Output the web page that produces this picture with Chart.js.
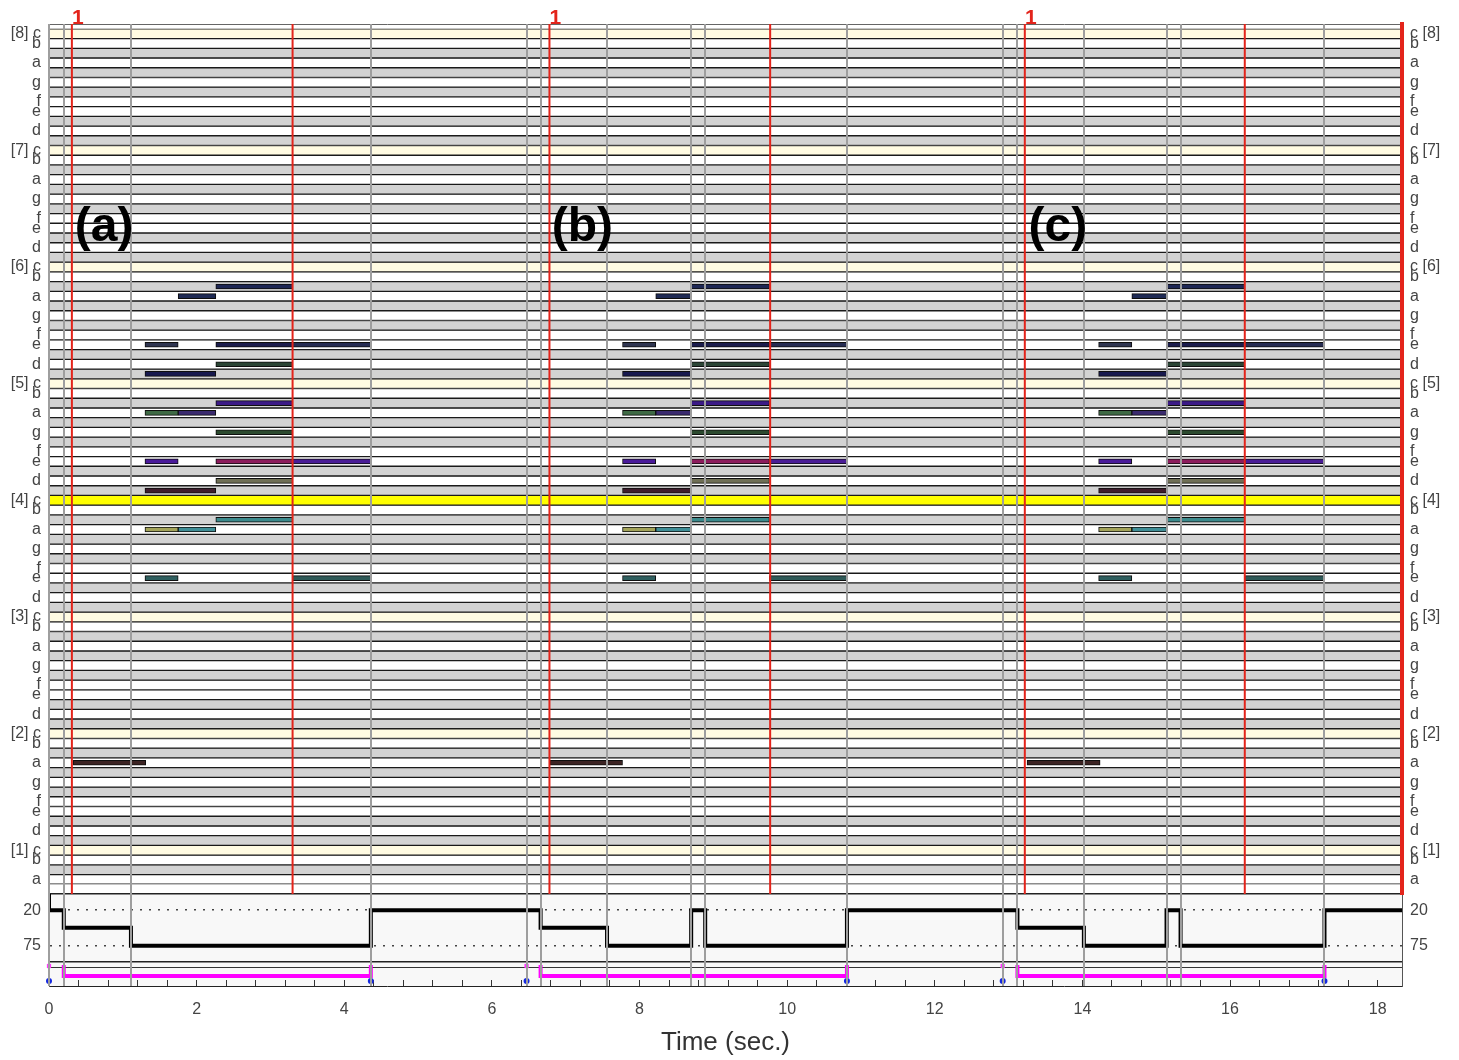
<!DOCTYPE html>
<html>
<head>
<meta charset="utf-8">
<script src="https://cdn.jsdelivr.net/npm/chart.js@4.4.1/dist/chart.umd.min.js"></script>
<style>
  html, body { margin: 0; padding: 0; background: #fff; }
  canvas { display: block; }
</style>
</head>
<body>
<canvas id="pianoRoll" width="1459" height="1060"></canvas>
<script>
// time axis (seconds)
const timeMax = 18.33;
const timeLabelEvery = 2;

// keyboard (midi numbers), A0 .. C8
const lowKey = 21;
const highKey = 108;
const rollMin = 19.5;
const rollMax = 109;
const noteLetters = ['c', '', 'd', '', 'e', 'f', '', 'g', '', 'a', '', 'b'];
const blackKeys = [1, 3, 6, 8, 10];

// vertical markers
const greyLines = [0, 0.2, 1.11, 4.36, 6.47, 6.66, 7.56, 8.70, 8.89, 10.81, 12.92, 13.12, 14.02, 15.14, 15.33, 17.28];
const redLines = [0.31, 3.30, 6.78, 9.77, 13.22, 16.20];
const barOneTimes = [0.31, 6.78, 13.22];

// notes: [start, end, midi]
const notesA = [
  [0.33, 1.31, 33], [1.30, 1.75, 76], [2.26, 3.30, 76], [3.30, 4.36, 76],
  [1.75, 2.26, 81], [2.26, 3.30, 82], [2.26, 3.30, 74], [1.30, 2.26, 73],
  [2.26, 3.30, 70], [1.30, 1.75, 69], [1.75, 2.26, 69], [2.26, 3.30, 67],
  [1.30, 1.75, 64], [2.26, 3.30, 64], [3.30, 4.36, 64], [2.26, 3.30, 62],
  [1.30, 2.26, 61], [2.26, 3.30, 58], [1.30, 1.75, 57], [1.75, 2.26, 57],
  [1.30, 1.75, 52], [3.30, 4.36, 52]
];
const notesB = [
  [6.79, 7.77, 33], [7.77, 8.22, 76], [8.70, 9.76, 76], [9.76, 10.81, 76],
  [8.22, 8.70, 81], [8.70, 9.76, 82], [8.70, 9.76, 74], [7.77, 8.70, 73],
  [8.70, 9.76, 70], [7.77, 8.22, 69], [8.22, 8.70, 69], [8.70, 9.76, 67],
  [7.77, 8.22, 64], [8.70, 9.76, 64], [9.76, 10.81, 64], [8.70, 9.76, 62],
  [7.77, 8.70, 61], [8.70, 9.76, 58], [7.77, 8.22, 57], [8.22, 8.70, 57],
  [7.77, 8.22, 52], [9.76, 10.81, 52]
];
const notesC = [
  [13.25, 14.24, 33], [14.22, 14.67, 76], [15.14, 16.20, 76], [16.20, 17.28, 76],
  [14.67, 15.14, 81], [15.14, 16.20, 82], [15.14, 16.20, 74], [14.22, 15.14, 73],
  [15.14, 16.20, 70], [14.22, 14.67, 69], [14.67, 15.14, 69], [15.14, 16.20, 67],
  [14.22, 14.67, 64], [15.14, 16.20, 64], [16.20, 17.28, 64], [15.14, 16.20, 62],
  [14.22, 15.14, 61], [15.14, 16.20, 58], [14.22, 14.67, 57], [14.67, 15.14, 57],
  [14.22, 14.67, 52], [16.20, 17.28, 52]
];
// one colour per note, same order in each section
const noteColors = [
  '#3d2424', '#2f3550', '#1b1d4d', '#262c52',
  '#1e2a55', '#1e2755', '#2b4535', '#17194e',
  '#3b1a86', '#3f6a45', '#3a2a6e', '#2c4a2f',
  '#4a1a9a', '#8c1c5c', '#4a1c96', '#6f6f55',
  '#3f1c2c', '#3c8a8c', '#a3a45a', '#3f8e96',
  '#2f5f5f', '#2f5a58'
];

// lower panel (step curve)
const tempoTimes = [0, 0, 0.2, 1.11, 4.36, 6.66, 7.56, 8.70, 8.89, 10.81, 13.12, 14.02, 15.14, 15.33, 17.28, 18.33];
const tempoValues = [-5, 20, 47, 75, 20, 47, 75, 20, 75, 20, 47, 75, 20, 75, 20, 20];
const tempoTicks = [20, 75];

// bottom strip
const sectionStarts = [0, 6.47, 12.92];
const sectionEnds = [4.36, 10.81, 17.28];
const bracketStarts = [0.2, 6.66, 13.12];

const panelLabels = ['(a)', '(b)', '(c)'];
const panelLabelTimes = [0.35, 6.81, 13.27];
const panelLabelKey = 88;

// strip lanes
const laneMark = 4, laneBracketTop = 3, laneBracket = 14, laneEnd = 19;

Chart.defaults.font.family = '"Liberation Sans", Arial, sans-serif';

const keys = [];
for (let k = lowKey; k <= highKey; k++) keys.push(k);
const whiteKeys = keys.filter(k => !blackKeys.includes(k % 12));

function rowColor(k) {
  if (k === 60) return '#ffff00';
  if (k % 12 === 0) return '#fffbe2';
  if (blackKeys.includes(k % 12)) return '#d3d3d3';
  return '#ffffff';
}

const allNotes = [...notesA, ...notesB, ...notesC];
const allNoteColors = [...noteColors, ...noteColors, ...noteColors];

const panelFill = {
  id: 'panelFill',
  beforeDraw(chart) {
    const { ctx, chartArea, scales } = chart;
    ctx.save();
    ctx.fillStyle = '#f8f8f8';
    ctx.fillRect(chartArea.left, scales.yTempo.top, chartArea.width, scales.yStrip.bottom - scales.yTempo.top);
    ctx.restore();
  }
};

const panelText = {
  id: 'panelText',
  afterDraw(chart) {
    const { ctx, scales } = chart;
    ctx.save();
    ctx.font = 'bold 48px "Liberation Sans", Arial, sans-serif';
    ctx.fillStyle = '#000';
    ctx.textBaseline = 'middle';
    panelLabels.forEach((t, i) => {
      ctx.fillText(t, scales.x.getPixelForValue(panelLabelTimes[i]), scales.yRoll.getPixelForValue(panelLabelKey));
    });
    ctx.restore();
  }
};

const keyLabelLeft = v => {
  const k = Math.round(v);
  if (k % 12 === 0) return '[' + (Math.floor(k / 12) - 1) + '] c';
  return noteLetters[k % 12];
};
const keyLabelRight = v => {
  const k = Math.round(v);
  if (k % 12 === 0) return 'c [' + (Math.floor(k / 12) - 1) + ']';
  return noteLetters[k % 12];
};
const tempoLabel = v => (tempoTicks.includes(v) ? String(v) : '');
const tempoGridColor = ctx => (ctx.tick && tempoTicks.includes(ctx.tick.value) ? '#444' : '#222');
const tempoDash = ctx => (ctx.tick && tempoTicks.includes(ctx.tick.value) ? [2, 7] : []);

// vertical axes: force width and drop the label padding at the ends
const fixWidth = w => s => { s.width = w; s.paddingTop = 0; s.paddingBottom = 0; };

const redData = [];
redLines.forEach(t => {
  redData.push({ x: t, y: rollMax }, { x: t, y: rollMin }, { x: t, y: null });
});
const bracketData = [];
bracketStarts.forEach((s, i) => {
  const e = sectionEnds[i];
  bracketData.push({ x: s, y: laneBracketTop }, { x: s, y: laneBracket }, { x: e, y: laneBracket }, { x: e, y: laneBracketTop }, { x: e, y: null });
});

new Chart(document.getElementById('pianoRoll'), {
  type: 'line',
  data: {
    datasets: [
      {
        type: 'bar',
        indexAxis: 'y',
        xAxisID: 'x',
        yAxisID: 'yRoll',
        data: keys.map(k => ({ x: [0, timeMax], y: k })),
        backgroundColor: keys.map(rowColor),
        borderColor: '#1a1a1a',
        borderWidth: { top: 1, bottom: 1, left: 0, right: 0 },
        borderSkipped: false,
        barPercentage: 1,
        categoryPercentage: 1,
        grouped: false,
        order: 5
      },
      {
        type: 'bar',
        indexAxis: 'y',
        xAxisID: 'x',
        yAxisID: 'yRoll',
        data: allNotes.map(n => ({ x: [n[0], n[1]], y: n[2] })),
        backgroundColor: allNoteColors,
        borderColor: '#0e0e0e',
        borderWidth: 1,
        borderSkipped: false,
        barThickness: 5,
        grouped: false,
        order: 3
      },
      {
        type: 'line',
        xAxisID: 'x',
        yAxisID: 'yRoll',
        data: redData,
        borderColor: '#e3241b',
        borderWidth: 2,
        pointRadius: 0,
        spanGaps: false,
        order: 2
      },
      {
        type: 'line',
        xAxisID: 'x',
        yAxisID: 'yTempo',
        data: tempoTimes.map((t, i) => ({ x: t, y: tempoValues[i] })),
        stepped: true,
        borderColor: '#000',
        borderWidth: 4,
        pointRadius: 0,
        order: 1
      },
      {
        type: 'line',
        xAxisID: 'x',
        yAxisID: 'yStrip',
        data: bracketData,
        borderColor: '#ff00ff',
        borderWidth: 4,
        pointRadius: 0,
        spanGaps: false,
        order: 1
      },
      {
        type: 'line',
        xAxisID: 'x',
        yAxisID: 'yStrip',
        data: sectionStarts.map(t => ({ x: t, y: laneMark })),
        showLine: false,
        pointStyle: 'rect',
        pointRadius: 3,
        pointBackgroundColor: '#ff33ff',
        pointBorderWidth: 0,
        clip: false,
        order: 0
      },
      {
        type: 'line',
        xAxisID: 'x',
        yAxisID: 'yStrip',
        data: [...sectionStarts, ...sectionEnds].map(t => ({ x: t, y: laneEnd })),
        showLine: false,
        pointStyle: 'circle',
        pointRadius: 3,
        pointBackgroundColor: '#1428e0',
        pointBorderWidth: 0,
        clip: false,
        order: 0
      }
    ]
  },
  options: {
    responsive: false,
    animation: false,
    events: [],
    devicePixelRatio: 1,
    layout: { padding: 0 },
    plugins: { legend: { display: false }, tooltip: { enabled: false } },
    scales: {
      x: {
        type: 'linear', position: 'bottom', min: 0, max: timeMax, offset: false,
        grid: { display: true, drawOnChartArea: false, drawTicks: true, tickLength: -6, color: '#333', offset: false },
        border: { display: true, color: '#222', width: 1 },
        ticks: {
          stepSize: 0.4, includeBounds: false, autoSkip: false, maxRotation: 0, padding: 20,
          color: '#444', font: { size: 16 },
          callback: v => (Math.abs(v / timeLabelEvery - Math.round(v / timeLabelEvery)) < 1e-6 ? String(Math.round(v)) : '')
        },
        title: { display: true, text: 'Time (sec.)', color: '#333', font: { size: 26 }, padding: { top: 0, bottom: 2 } },
        afterFit: s => { s.height = 74; }
      },
      x2: {
        type: 'linear', position: 'top', min: 0, max: timeMax, offset: false,
        afterBuildTicks: s => { s.ticks = greyLines.map(v => ({ value: v })); },
        ticks: { display: false },
        grid: { display: true, drawTicks: false, color: '#9e9e9e', lineWidth: 2, z: 1, offset: false },
        border: { display: false },
        afterFit: s => { s.height = 0; }
      },
      x3: {
        type: 'linear', position: 'top', min: 0, max: timeMax, offset: false,
        afterBuildTicks: s => { s.ticks = barOneTimes.map(v => ({ value: v })); },
        ticks: {
          display: true, autoSkip: false, maxRotation: 0, color: '#e3241b',
          font: { size: 21, weight: 'bold' }, labelOffset: 6, padding: -7,
          callback: () => '1'
        },
        grid: { display: false, drawTicks: false },
        border: { display: true, color: '#666', width: 1 },
        afterFit: s => { s.height = 24; }
      },
      yStrip: {
        type: 'linear', position: 'left', stack: 'left', stackWeight: 24, offset: false,
        min: 0, max: 24, reverse: true,
        afterBuildTicks: s => { s.ticks = [laneMark + 1].map(v => ({ value: v })); },
        ticks: { display: false },
        grid: { color: '#333', lineWidth: 1, drawTicks: false, offset: false },
        border: { color: '#555' },
        afterFit: fixWidth(49)
      },
      yTempo: {
        type: 'linear', position: 'left', stack: 'left', stackWeight: 68, offset: false,
        min: -5, max: 100, reverse: true,
        afterBuildTicks: s => { s.ticks = [-5, ...tempoTicks, 100].map(v => ({ value: v })); },
        ticks: { callback: tempoLabel, color: '#444', font: { size: 16 }, padding: 8, autoSkip: false },
        grid: { color: tempoGridColor, lineWidth: 1.5, drawTicks: false, offset: false },
        border: { color: '#555', dash: tempoDash },
        afterFit: fixWidth(49)
      },
      yRoll: {
        type: 'linear', position: 'left', stack: 'left', stackWeight: 870, offset: false,
        min: rollMin, max: rollMax,
        afterBuildTicks: s => { s.ticks = whiteKeys.map(v => ({ value: v })); },
        ticks: { callback: keyLabelLeft, color: '#444', font: { size: 16 }, padding: 8, autoSkip: false },
        grid: { display: false, drawTicks: false, offset: false },
        border: { color: '#555' },
        afterFit: fixWidth(49)
      },
      yRollR: {
        type: 'linear', position: 'right', stack: 'right', stackWeight: 870, offset: false,
        min: rollMin, max: rollMax,
        afterBuildTicks: s => { s.ticks = whiteKeys.map(v => ({ value: v })); },
        ticks: { callback: keyLabelRight, color: '#444', font: { size: 16 }, padding: 8, autoSkip: false },
        grid: { display: false, drawTicks: false, offset: false },
        border: { color: '#e3241b', width: 4, z: 1 },
        afterFit: fixWidth(57)
      },
      yTempoR: {
        type: 'linear', position: 'right', stack: 'right', stackWeight: 68, offset: false,
        min: -5, max: 100, reverse: true,
        afterBuildTicks: s => { s.ticks = tempoTicks.map(v => ({ value: v })); },
        ticks: { callback: tempoLabel, color: '#444', font: { size: 16 }, padding: 8, autoSkip: false },
        grid: { display: false, drawTicks: false },
        border: { color: '#555' },
        afterFit: fixWidth(57)
      },
      yStripR: {
        type: 'linear', position: 'right', stack: 'right', stackWeight: 24, offset: false,
        min: 0, max: 24, reverse: true,
        ticks: { display: false },
        grid: { display: false, drawTicks: false },
        border: { color: '#555' },
        afterFit: fixWidth(57)
      }
    }
  },
  plugins: [panelFill, panelText]
});
</script>
</body>
</html>
